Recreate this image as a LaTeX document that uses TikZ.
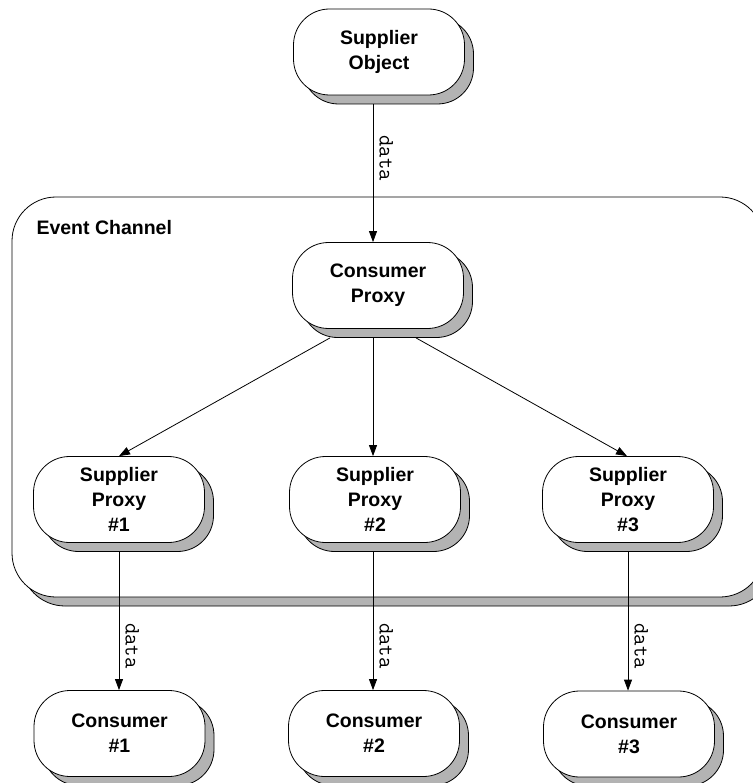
\documentclass[tikz,border=0pt]{standalone}
\usepackage{fontspec}
\setmainfont{Liberation Sans}
\usetikzlibrary{shadows,arrows.meta,calc}

\definecolor{shadowgray}{HTML}{B3B3B3}

\tikzset{
  boxshadow/.style={drop shadow={shadow xshift=9pt, shadow yshift=-9pt,
      fill=shadowgray, draw=black, line width=0.8pt, opacity=1}},
  bubble/.style={draw=black, line width=0.8pt, fill=white,
      rounded corners=36pt, minimum width=171pt, minimum height=86pt,
      inner sep=0pt, align=center, boxshadow,
      font=\fontsize{19.5}{25}\selectfont\bfseries},
  channel/.style={draw=black, line width=0.8pt, fill=white,
      rounded corners=44pt, minimum width=752pt, minimum height=400pt,
      inner sep=0pt, boxshadow},
  flow/.style={line width=0.8pt, -{Triangle[length=11pt,width=8pt]}},
  datalabel/.style={font=\fontsize{22}{24}\ttfamily, rotate=-90,
      anchor=south, inner sep=6pt}
}

\begin{document}
\begin{tikzpicture}[x=1pt,y=-1pt]
  \useasboundingbox (0,0) rectangle (752,783);

  % channel container
  \node[channel] (ec) at (388,397) {};
  \node[anchor=base west, font=\fontsize{19.5}{25}\selectfont\bfseries]
    (ectitle) at (33,235) {Event Channel};

  % objects
  \node[bubble] (so) at (379,52) {Supplier\\Object};
  \node[bubble] (cp) at (378,285.5) {Consumer\\Proxy};
  \node[bubble] (sp1) at (119,499.5) {Supplier\\Proxy\\\#1};
  \node[bubble] (sp2) at (375,499.5) {Supplier\\Proxy\\\#2};
  \node[bubble] (sp3) at (628,499.5) {Supplier\\Proxy\\\#3};
  \node[bubble] (c1) at (119.5,733.5) {Consumer\\\#1};
  \node[bubble] (c2) at (374,733.5) {Consumer\\\#2};
  \node[bubble] (c3) at (629,734) {Consumer\\\#3};

  % supplier to consumer proxy
  \coordinate (soout) at ($(so.south)+(-6,9)$);
  \draw[flow] (soout) -- node[datalabel, pos=0.39] {data} (soout |- cp.north);

  % consumer proxy fan-out
  \draw[flow] ($(cp.south)+(-48,9)$) -- (sp1.north);
  \coordinate (cpmid) at ($(cp.south)+(-5,9)$);
  \draw[flow] (cpmid) -- (cpmid |- sp2.north);
  \draw[flow] ($(cp.south)+(38,9)$) -- ($(sp3.north)+(-1,0)$);

  % supplier proxies to consumers
  \coordinate (sp1out) at ($(sp1.south)+(0,9)$);
  \coordinate (sp2out) at ($(sp2.south)+(-2,9)$);
  \coordinate (sp3out) at ($(sp3.south)+(0,9)$);
  \draw[flow] (sp1out) -- node[datalabel, pos=0.68] {data} (sp1out |- c1.north);
  \draw[flow] (sp2out) -- node[datalabel, pos=0.68] {data} (sp2out |- c2.north);
  \draw[flow] (sp3out) -- node[datalabel, pos=0.68] {data} (sp3out |- c3.north);
\end{tikzpicture}
\end{document}
